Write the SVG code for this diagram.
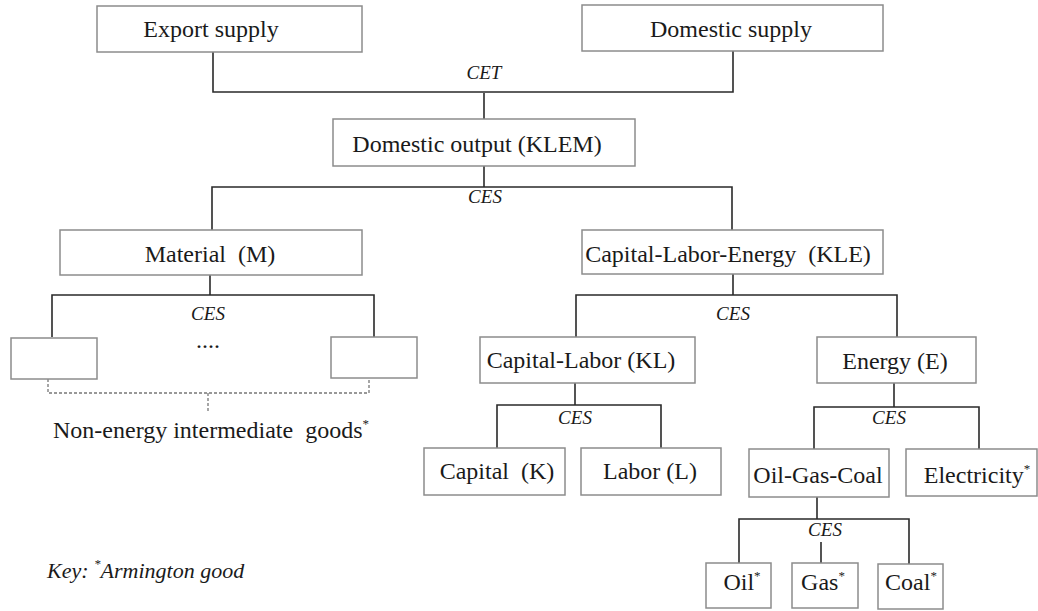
<svg xmlns="http://www.w3.org/2000/svg" width="1038" height="611" viewBox="0 0 1038 611">
<style>
.box{fill:#fff;stroke:#8c8c8c;stroke-width:1.5}
.ln{stroke:#2a2a2a;stroke-width:1.6;fill:none}
.dash{stroke:#777;stroke-width:1.3;fill:none;stroke-dasharray:3 2}
.t{font-family:'Liberation Serif','Tinos','DejaVu Serif',serif;font-size:24px;fill:#1a1a1a}
.c{font-family:'Liberation Serif','Tinos','DejaVu Serif',serif;font-size:19px;font-style:italic;fill:#1a1a1a;text-anchor:middle}
.k{font-family:'Liberation Serif','Tinos','DejaVu Serif',serif;font-size:22px;font-style:italic;fill:#1a1a1a}
.sup{font-size:13px}
</style>
<rect width="1038" height="611" fill="#fff"/>
<g id="connectors">
<path class="ln" d="M213 52V92H733V51"/>
<path class="ln" d="M484 93V119"/>
<path class="ln" d="M484 166V187"/>
<path class="ln" d="M212 230V187H732V230"/>
<path class="ln" d="M210 275V295"/>
<path class="ln" d="M52 337V295H374V337"/>
<path class="dash" d="M48 379V393H369V378"/>
<path class="dash" d="M208 393V412"/>
<path class="ln" d="M733 274V295"/>
<path class="ln" d="M576 337V295H897V337"/>
<path class="ln" d="M575 383V405"/>
<path class="ln" d="M497 448V405H661V448"/>
<path class="ln" d="M894 383V407"/>
<path class="ln" d="M814 449V407H979V449"/>
<path class="ln" d="M817 497V519"/>
<path class="ln" d="M739 563V519H909V564"/>
<path class="ln" d="M821 542V563"/>
</g>
<g id="export-supply"><rect class="box" x="97" y="6" width="265" height="46"/><text class="t" x="211" y="37" text-anchor="middle">Export supply</text></g>
<g id="domestic-supply"><rect class="box" x="582" y="5" width="301" height="46"/><text class="t" x="731" y="37" text-anchor="middle">Domestic supply</text></g>
<text class="c" x="484" y="79">CET</text>
<g id="domestic-output"><rect class="box" x="333" y="119" width="302" height="47"/><text class="t" x="477" y="152" text-anchor="middle">Domestic output (KLEM)</text></g>
<text class="c" x="485" y="203">CES</text>
<g id="material"><rect class="box" x="60" y="230" width="302" height="45"/><text class="t" x="210" y="262" text-anchor="middle" xml:space="preserve">Material  (M)</text></g>
<g id="kle"><rect class="box" x="582" y="230" width="301" height="44"/><text class="t" x="728" y="262" text-anchor="middle" xml:space="preserve">Capital-Labor-Energy  (KLE)</text></g>
<text class="c" x="208" y="320">CES</text>
<text class="c" x="733" y="320">CES</text>
<g id="good-left"><rect class="box" x="11" y="338" width="86" height="41"/></g>
<g id="good-right"><rect class="box" x="331" y="337" width="86" height="41"/></g>
<text class="t" x="208" y="348" text-anchor="middle">....</text>
<text class="t" x="211" y="438" text-anchor="middle" xml:space="preserve">Non-energy intermediate  goods<tspan class="sup" dy="-10">*</tspan></text>
<g id="kl"><rect class="box" x="480" y="337" width="215" height="46"/><text class="t" x="581" y="368" text-anchor="middle">Capital-Labor (KL)</text></g>
<g id="energy"><rect class="box" x="817" y="337" width="159" height="46"/><text class="t" x="895" y="369" text-anchor="middle">Energy (E)</text></g>
<text class="c" x="575" y="424">CES</text>
<text class="c" x="889" y="424">CES</text>
<g id="capital"><rect class="box" x="424" y="448" width="141" height="47"/><text class="t" x="497" y="479" text-anchor="middle" xml:space="preserve">Capital  (K)</text></g>
<g id="labor"><rect class="box" x="581" y="448" width="140" height="47"/><text class="t" x="650" y="479" text-anchor="middle">Labor (L)</text></g>
<g id="oil-gas-coal"><rect class="box" x="749" y="449" width="140" height="48"/><text class="t" x="818" y="483" text-anchor="middle">Oil-Gas-Coal</text></g>
<g id="electricity"><rect class="box" x="906" y="449" width="131" height="47"/><text class="t" x="977" y="483" text-anchor="middle">Electricity<tspan class="sup" dy="-10">*</tspan></text></g>
<text class="c" x="825" y="536">CES</text>
<g id="oil"><rect class="box" x="706" y="563" width="65" height="45"/><text class="t" x="742" y="590" text-anchor="middle">Oil<tspan class="sup" dy="-10">*</tspan></text></g>
<g id="gas"><rect class="box" x="792" y="563" width="66" height="45"/><text class="t" x="823" y="590" text-anchor="middle">Gas<tspan class="sup" dy="-10">*</tspan></text></g>
<g id="coal"><rect class="box" x="878" y="564" width="65" height="45"/><text class="t" x="911" y="590" text-anchor="middle">Coal<tspan class="sup" dy="-10">*</tspan></text></g>
<text class="k" x="47" y="578">Key: <tspan class="sup" dy="-10">*</tspan><tspan dy="10">Armington good</tspan></text>
</svg>
